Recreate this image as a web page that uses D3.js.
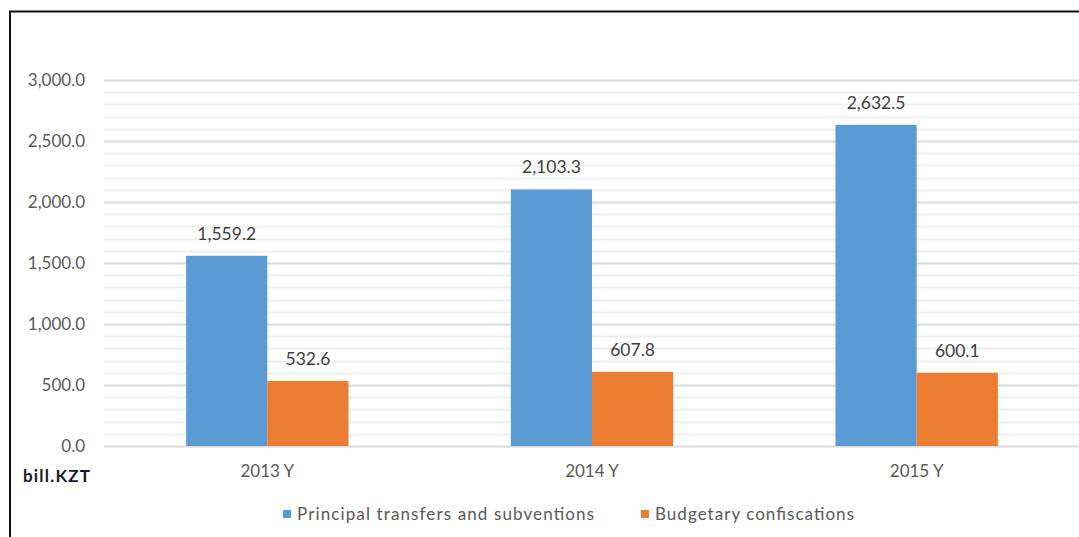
<!DOCTYPE html>
<html><head><meta charset="utf-8">
<script src="https://cdn.jsdelivr.net/npm/d3@7"></script>
<style>body{margin:0;background:#fff;} svg{display:block;}</style>
</head><body>
<script>
const categories = ["2013 Y", "2014 Y", "2015 Y"];
const seriesNames = ["Principal transfers and subventions", "Budgetary confiscations"];
const principal = [1559.2, 2103.3, 2632.5];
const confiscations = [532.6, 607.8, 600.1];
const yTicks = [0, 500, 1000, 1500, 2000, 2500, 3000];
const colors = ["#5b9bd5", "#ed7d31"];
const unitLabel = "bill.KZT";

const W = 1079, H = 537;
const svg = d3.select("body").append("svg").attr("width", W).attr("height", H);
const font = "Lato, 'Open Sans', sans-serif";

// frame lines (top and left)
svg.append("line").attr("x1", 9).attr("x2", W).attr("y1", 11.5).attr("y2", 11.5).attr("stroke", "#111").attr("stroke-width", 2);
svg.append("line").attr("x1", 10).attr("x2", 10).attr("y1", 11).attr("y2", H).attr("stroke", "#111").attr("stroke-width", 2);

const x0 = d3.scaleBand().domain(categories).range([105, 1079]).paddingInner(0.5).paddingOuter(0.25);
const x1 = d3.scaleBand().domain([0, 1]).range([0, x0.bandwidth()]);
const y = d3.scaleLinear().domain([0, 3000]).range([446, 80]);

// minor gridlines
const minor = d3.range(0, 3001, 100).filter(v => v % 500 !== 0);
svg.append("g").selectAll("line").data(minor).join("line")
  .attr("x1", 104).attr("x2", 1078)
  .attr("y1", d => Math.round(y(d)) + 0.5).attr("y2", d => Math.round(y(d)) + 0.5)
  .attr("stroke", "#efefef").attr("stroke-width", 2);

// major gridlines via axis
const yAxis = d3.axisLeft(y).tickValues(yTicks).tickSize(-(1078 - 104)).tickFormat(d3.format(",.1f")).tickPadding(19);
const gy = svg.append("g").attr("transform", "translate(104,0)").call(yAxis);
gy.select(".domain").remove();
gy.selectAll(".tick line").attr("stroke", "#d9d9d9").attr("stroke-width", 2);
gy.selectAll(".tick text").attr("fill", "#595959").style("font-family", font).style("font-size", "17px");

const groups = [principal, confiscations];
categories.forEach((c, i) => {
  groups.forEach((s, k) => {
    const bx = x0(c) + x1(k);
    svg.append("rect").attr("x", bx).attr("width", x1.bandwidth())
      .attr("y", y(s[i])).attr("height", y(0) - y(s[i])).attr("fill", colors[k]);
    svg.append("text").attr("x", bx + x1.bandwidth() / 2).attr("y", y(s[i]) - 16)
      .attr("text-anchor", "middle").attr("fill", "#404040")
      .style("font-family", font).style("font-size", "17.5px")
      .text(d3.format(",.1f")(s[i]));
  });
});

// x axis labels
const xAxis = d3.axisBottom(x0).tickSize(0).tickPadding(19);
const gx = svg.append("g").attr("transform", "translate(0,446)").call(xAxis);
gx.select(".domain").remove();
gx.selectAll(".tick text").attr("fill", "#595959").style("font-family", font).style("font-size", "17px");

// unit label
svg.append("text").attr("x", 23).attr("y", 482).attr("fill", "#1a1a2e")
  .attr("textLength", 67).attr("lengthAdjust", "spacing")
  .style("font-family", font).style("font-size", "17px").style("font-weight", "bold").text(unitLabel);

// legend
const legendX = [283, 641];
const legendLen = [297, 199];
seriesNames.forEach((n, k) => {
  svg.append("rect").attr("x", legendX[k]).attr("y", 510).attr("width", 8).attr("height", 8).attr("fill", colors[k]);
  svg.append("text").attr("x", legendX[k] + 14).attr("y", 520).attr("fill", "#595959")
    .attr("textLength", legendLen[k]).attr("lengthAdjust", "spacing")
    .style("font-family", font).style("font-size", "17px").text(n);
});
</script>
</body></html>
